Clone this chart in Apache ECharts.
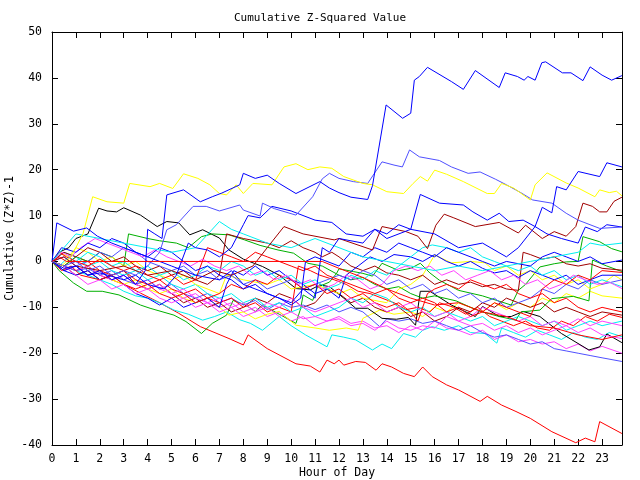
<!DOCTYPE html>
<html><head><meta charset="utf-8">
<script src="https://cdn.jsdelivr.net/npm/echarts@6/dist/echarts.min.js"></script>
<style>html,body{margin:0;padding:0;background:#fff}#c{width:640px;height:480px}</style>
</head><body><div id="c"></div>
<script>
const titleText = "Cumulative Z-Squared Value";
const xName = "Hour of Day";
const yName = "Cumulative (Z*Z)-1";
const xMin = 0, xMax = 23.8333, yMin = -40, yMax = 50;

const blue1 = [[0,0],[0.5,-1.5],[1,-1],[1.5,-3],[2,-2],[2.5,-4],[3,-3],[3.5,-5],[3.9,-2],[4.0,7],[4.3,6],[4.6,5],[4.8,14.5],[5.5,15.6],[6.2,13],[6.7,14.1],[7.1,14.9],[7.85,16.7],[8.0,19.2],[8.5,18.1],[9,18.8],[9.5,17],[10.2,14.8],[11.2,17.4],[11.6,16],[12,15],[12.5,14],[13.2,13.5],[13.4,16.5],[13.97,34.1],[14.66,31.2],[15.0,32.3],[15.15,39.5],[15.36,40.3],[15.7,42.3],[16.7,39.2],[17.2,37.5],[17.7,41.6],[18.7,37.9],[18.95,41.1],[19.46,40.3],[19.74,39.5],[19.9,40.3],[20.2,39.5],[20.48,43.3],[20.64,43.5],[21.34,41.1],[21.7,41.1],[22.2,39.4],[22.5,42.4],[23.0,40.6],[23.4,39.5],[23.83,40.5]];
const blue2 = [[0,0],[0.2,8.4],[0.9,6.6],[1.45,7.3],[1.9,5.5],[2.5,4],[3,3],[4,1],[5,-1],[6,-3],[7,-4],[7.5,-2],[8,-5],[9,-7],[10,-9],[10.5,-6],[11,-8],[11.3,3],[11.6,2],[12,5],[13,4],[13.5,7],[14,5],[15,7],[16,6],[17,3],[18,4],[19,1],[19.5,3],[20.2,7.6],[20.5,11.8],[20.9,10.6],[21.1,16.3],[21.5,15.6],[22,19.6],[22.9,18.5],[23.2,21.5],[23.83,20.6]];
const blue3 = [[0,0],[0.5,-2],[1,-1],[1.5,-3],[2,-2.5],[3,-4],[3.5,-3],[4,-5],[4.7,-6],[5.2,-3],[5.7,4],[6,3],[6.5,2.5],[7,1],[7.5,3],[8,8],[8.2,10],[8.7,9.5],[9.2,12],[10,11],[11,9],[11.7,8.5],[12.3,6],[13,5.5],[13.5,7],[14,6],[14.5,8],[15,7],[15.4,14.6],[16.2,12.7],[17.2,12.3],[17.6,10.8],[18.2,9],[18.7,10.5],[19.1,8.7],[19.7,9],[20.2,7.6],[20.7,6],[21.3,5],[22,4],[22.3,7.5],[22.8,6.5],[23.2,8],[23.83,7.5]];
const blue4 = [[0,0],[0.4,3],[1,2],[1.5,4],[2,3],[2.5,5],[3,4],[3.5,2],[4,1],[4.5,3],[5,2],[5.5,0],[6,-2],[6.5,-1],[7,-3],[7.5,-4],[8,-6],[8.5,-5],[9,-7],[9.5,-8],[10,-9.5],[10.4,-8],[10.6,0],[11,1],[11.5,0],[12,-1],[12.5,2],[13,1],[13.5,3],[14,2],[14.5,4],[15,3],[15.5,2],[16,1],[16.5,3],[17,2],[18,0],[18.5,-1],[19,0],[20,-1],[20.5,1],[21,2],[21.5,1],[22,0],[22.5,1],[23,-0.5],[23.83,0.3]];
const blue5 = [[0,0],[0.5,-2],[1,-3],[1.5,-2],[2,-4],[2.5,-3],[3,-5],[3.5,-7],[4,-8],[4.5,-9.5],[5,-8],[5.5,-10],[6,-9],[6.5,-8],[7,-10],[7.3,-5],[7.6,-2],[8,-3],[8.5,-1],[9,-3],[9.5,-2],[10,-4],[10.5,-5],[11,-7],[11.5,-6],[12,-8],[12.3,-3],[12.8,-1],[13.3,1],[13.8,0],[14.3,1.5],[15,1],[15.5,0],[16,1.5],[16.5,0],[17,-1],[17.5,0],[18,-1.5],[18.5,-2.5],[19,-2],[19.5,-3.5],[20,-2],[20.5,-3],[21,-4],[21.5,-3],[22,-5],[22.5,-4],[23,-3],[23.83,-3]];
const black1 = [[0,0],[0.3,2],[0.7,3],[1,5],[1.5,6],[1.95,11.6],[2.3,11],[2.7,10.8],[3.0,11.7],[3.7,10.1],[4.4,7.6],[4.8,8.7],[5.3,8.4],[5.76,5.8],[6.3,6.9],[7.0,5.1],[7.4,2.5],[8,0.5],[8.8,-1.1],[9.5,-3],[10.2,-5.9],[10.8,-6.2],[11.2,-5.1],[11.6,-5.5],[12.2,-8],[12.7,-10.2],[13.2,-10.2],[13.8,-12.4],[14.4,-12.6],[14.9,-12.2],[15.2,-13.9],[15.4,-6.5],[15.8,-6.5],[16.7,-9.5],[17.7,-12],[18,-9.8],[18.7,-12],[19.2,-12],[19.7,-10.9],[20.4,-12],[21.3,-15.7],[22.45,-19.3],[22.9,-18.6],[23.2,-15.8],[23.83,-17.7]];
const yellow1 = [[0,0],[0.4,-1],[0.8,1],[1.3,6.1],[1.7,14.1],[2.3,13],[3.0,12.7],[3.25,17],[4.1,16.3],[4.5,17],[5.05,15.9],[5.5,19.1],[6.1,18.1],[6.6,16.7],[7.0,14.8],[7.3,14.5],[7.7,16.7],[8.0,14.8],[8.4,17],[9.2,16.7],[9.7,20.6],[10.2,21.3],[10.7,20],[11.2,20.6],[11.7,20.3],[12.2,18.5],[13,17],[13.4,16.7],[14.0,15.2],[14.7,14.8],[15.1,17],[15.4,18.5],[15.7,17.5],[16,19.9],[16.5,19],[17.2,17.4],[18.2,14.8],[18.5,14.8],[18.8,17],[19.3,16],[20,13.4],[20.2,16.7],[20.7,19.3],[21.5,17.1],[22,16],[22.7,14.1],[22.9,15.6],[23.3,15],[23.6,15.3],[23.83,14.3]];
const yellow2 = [[0,0],[0.5,-2],[1,-1],[1.5,-3],[2,-2],[2.5,-4],[3,-5],[3.5,-4],[4,-6],[4.5,-7],[5,-6],[5.5,-8],[6,-9],[6.5,-8],[7,-10],[7.4,-11.7],[8,-11],[8.5,-12.5],[9,-11.5],[9.5,-10.9],[10.2,-13.9],[11,-14.5],[11.6,-15],[12.3,-14.5],[12.8,-15],[13,-12.4],[13.7,-10.6],[14.3,-11.5],[15,-11],[15.5,-12],[16,-10],[16.5,-11],[17,-9],[17.5,-10],[18,-11],[18.5,-9],[19,-10.5],[19.5,-9],[20,-10],[20.5,-8],[21,-9],[21.5,-7],[22,-8],[22.5,-6.5],[23,-7.5],[23.83,-8]];
const yellow3 = [[0,0],[0.3,2],[0.7,1],[1,3],[1.5,2],[2,0],[2.5,1],[3,-1],[3.5,0],[4,-2],[5,-4],[5.5,-3],[6,-5],[7,-7],[7.3,-3],[8,-4],[9,-5],[9.5,-4],[10,-6],[11,-5],[12,-7],[12.5,-6],[13,-8],[14,-9],[14.5,-6],[15,-5],[15.5,-3],[16,1.4],[16.7,-0.3],[17.5,0],[18.1,-0.3],[18.5,-2],[19,-1],[19.5,-3],[20,-2],[20.5,-4],[21,-3],[21.5,-5],[22,-4],[22.5,-6],[23,-5],[23.5,-3],[23.83,-4]];
const red1 = [[0,0],[0.5,-1],[1,-2],[1.5,-1],[2,-3],[3,-5],[3.7,-6.9],[4.5,-9],[5.3,-11.3],[6.2,-14.2],[7.4,-16.8],[8,-18.2],[8.2,-16],[9,-19],[10.2,-22.3],[10.8,-22.8],[11.2,-24.1],[11.5,-21.5],[11.8,-22.3],[12,-21.5],[12.2,-22.6],[12.7,-21.8],[13.1,-22],[13.55,-23.7],[13.8,-22.3],[14.2,-23],[14.7,-24.4],[15.15,-25.1],[15.5,-23],[15.9,-25.1],[16.5,-26.9],[17.0,-28],[17.9,-30.5],[18.2,-29.4],[18.8,-31.3],[19.4,-32.7],[20,-34.2],[20.9,-37.1],[21.9,-39.5],[22.3,-38.5],[22.7,-39.3],[22.9,-34.9],[23.83,-37.5]];
const red2 = [[0,0],[0.3,1],[0.6,0],[11.3,0],[12,-1.5],[13,-3.5],[14,-6],[15,-8],[16,-9.5],[17,-9],[18,-11],[19,-12],[20,-14],[21,-14.5],[22,-16],[23,-17],[23.83,-16]];
const red3 = [[0,0],[0.3,2],[0.6,1],[1,0],[1.5,-1],[2,0.5],[2.5,-1],[3,-2],[3.5,-1],[4,-3],[4.5,-4],[5,-3],[5.5,-5],[6,-4],[6.5,3],[7,2],[7.5,1],[8,0],[8.5,2],[9,1],[9.5,0],[10,-1],[10.5,-2],[11,-1],[11.5,-3],[12,-4],[12.5,-5],[13,-6],[13.5,-7],[14,-6],[14.5,-8],[15,-9],[15.5,-8],[16,-9],[16.5,-11],[17,-10],[17.5,-12],[18,-11],[18.5,-9],[19,-10],[19.5,-11],[20,-12],[20.5,-6],[21,-4],[21.5,-5],[22,-3],[22.5,-4],[23,-2],[23.83,-2.4]];
const red4 = [[0,0],[0.5,-1],[1,1],[1.5,0],[2,-2],[2.5,-3],[3,-2],[3.5,-4],[4,-5],[4.5,-4],[5,-6],[5.5,-7],[6,-6],[6.5,-8],[7,-9],[7.5,-8],[8,-10],[8.5,-9],[9,-11],[9.5,-10],[10,-11],[10.3,-1],[10.8,-2],[11.2,-3],[11.8,-4],[12.3,-5],[12.8,-6.5],[13.3,-7],[13.8,-8],[14.3,-9],[14.8,-10.5],[15.3,-10],[15.8,-11],[16.2,-9],[16.8,-10],[17.3,-11.5],[17.8,-10],[18.3,-12],[18.8,-13],[19.3,-14],[19.8,-13],[20.3,-14.5],[20.8,-15],[21.3,-13],[21.8,-14],[22.3,-12],[22.8,-13],[23.3,-11.5],[23.83,-12.2]];
const red5 = [[0,0],[0.4,-2],[0.8,-1],[1.2,-3],[2,-4],[2.5,-3],[3,-5],[3.5,-6],[4,-5],[4.5,-7],[5,-8],[5.5,-7],[6,-9],[6.5,-8],[7,-7],[7.5,-5],[8,-6],[8.5,-4],[9,-5],[9.5,-3],[10,-4],[10.5,-6],[11,-5],[11.5,-7],[12,-6],[12.5,-8],[13,-7],[13.5,-9],[14,-10],[14.5,-9],[15,-11],[15.3,-13],[15.7,-7],[16,-6],[16.5,-5],[17,-6],[17.5,-4],[18,-5],[18.5,-6],[19,-5],[19.5,-7],[20,-8],[20.5,-7],[21,-9],[21.5,-8],[22,-10],[22.5,-11],[23,-10],[23.83,-11]];
const darkred1 = [[0,0],[0.5,1],[1,-1],[2,-2],[3,-1],[4,-3],[5,-2],[6,-4],[6.8,-2],[7.5,-3],[8.4,-1],[9,3],[9.7,7.6],[10.5,6],[11.8,4.7],[12,5],[13.4,2.5],[13.8,7.6],[14.8,6.5],[15.3,5.5],[15.7,2.8],[16.05,7.9],[16.4,10.3],[16.8,9.5],[17.7,7.6],[18.7,8.5],[19.5,6.2],[19.8,7.9],[20.5,5],[21,6.5],[21.5,5.5],[21.9,7.6],[22.2,12.7],[22.6,12],[22.9,10.8],[23.2,10.8],[23.5,13.1],[23.83,14]];
const darkred2 = [[0,0],[0.5,2],[1,1],[1.5,3],[2,2],[2.5,0],[3,1],[3.5,-1],[4,-2],[4.5,-1],[5,-3],[5.5,-2],[6,-4],[6.5,-5],[7,-3],[7.3,6],[8,5],[9,4],[9.5,3],[10,4.5],[10.5,3],[11,2],[11.3,1],[11.7,2],[12,1],[12.5,-1],[13,-2],[13.5,-1],[14,-2.5],[14.5,-3],[15,-4],[15.5,-3],[16,-5],[16.5,-4],[17,-5],[17.5,-4.5],[18,-5.5],[18.5,-5],[19,-6],[19.5,-6.3],[19.7,2],[20,1.5],[20.5,0.5],[21,1],[21.5,-0.5],[22,-1],[22.5,-0.5],[23,-1.5],[23.83,-1.9]];
const darkred3 = [[0,0],[0.5,-1],[1,-3],[1.5,-2],[2,-4],[2.5,-3],[3,-2],[3.5,-5],[4,-6],[4.5,-5],[5,-7],[5.5,-9],[6,-8],[6.5,-10],[7,-9],[7.5,-11],[8,-10],[8.5,-8],[9,-9],[9.5,-7],[10,-8],[10.5,-10],[11,-9],[11.5,-6],[12,-7],[12.5,-9],[13,-8],[13.5,-10],[14,-11],[14.5,-10],[15,-12],[15.5,-11],[16,-13],[16.5,-12],[17,-10],[17.5,-11],[18,-9],[18.5,-10],[19,-8],[19.5,-9],[20,-10],[20.5,-9],[21,-11],[21.5,-10],[22,-11],[22.5,-12],[23,-11],[23.83,-11.7]];
const green1 = [[0,0],[0.3,-2],[0.9,-4.7],[1.45,-6.5],[2.1,-6.5],[2.8,-7.3],[3.7,-9.5],[4.1,-10.2],[5.1,-11.7],[5.6,-13.1],[6.25,-15.7],[6.7,-13.5],[7.3,-11.7],[7.57,-8.5],[8.1,-9.5],[8.5,-10.9],[8.8,-9.5],[9.5,-11.5],[10.2,-13.5],[10.4,-10.2],[10.5,-7.3],[10.9,-8.5],[11.1,-5.6],[11.6,-4.5],[11.9,-2.6],[12,-1.6],[12.6,-2.2],[13,-2.6],[13.4,-3.2],[13.8,-0.4],[14.5,-2],[15,-1.5],[15.4,-0.4],[15.8,-2.5],[16.2,-4.1],[17,-6.3],[18,-7.5],[18.6,-8.5],[19.2,-9.5],[19.5,-6.3],[19.8,-5],[20.4,-1.2],[21,-0.5],[21.5,-0.1],[22,0],[22.2,5.4],[22.9,4.3],[23.4,2.8],[23.83,2.1]];
const green2 = [[0,0],[0.5,-1],[1,1],[1.5,0],[2,2],[2.5,1],[3,-1],[3.2,6],[4,5],[4.5,4.5],[5.2,4],[5.7,3],[6.25,5.4],[6.7,6],[7.4,5.8],[8.05,4.7],[8.7,3.5],[9.45,2.5],[10.1,1.8],[10.7,-0.4],[11.3,-1],[12,-3],[12.5,-4],[13,-3.5],[13.5,-5],[14,-6],[14.5,-5.5],[15,-7],[15.5,-8],[16,-7.5],[16.9,-8.6],[17.5,-10],[18,-11],[18.7,-12],[19.4,-12.8],[19.6,-11],[20.4,-10.6],[20.9,-8.1],[21.8,-7.6],[22.45,-8.6],[22.6,0.3],[23.2,-1],[23.83,-2.2]];
const cyan1 = [[0,0],[0.5,3],[1,6],[2,5],[3,4],[4,3],[5,2],[6,3],[7,8.7],[7.5,7],[8,6],[9,4],[10,3],[11,5],[12,3],[13,1],[14,0],[15,-1],[16,-2],[17,-1],[18,-2],[19,-1],[20,0],[21,1],[22,2],[22.5,4],[23,3.5],[23.83,4]];
const cyan2 = [[0,0],[0.5,-1],[1,-2],[1.5,-3],[2,-4],[2.5,-5],[3,-6.5],[3.5,-7.5],[4,-8],[4.5,-9],[5.1,-10.6],[5.7,-11.5],[6.3,-12.8],[6.8,-12],[7.3,-11],[7.85,-12.7],[8.3,-13.5],[8.8,-15],[9.5,-12],[10,-14],[10.6,-16],[11.5,-18.6],[11.7,-16],[12.2,-16.5],[12.7,-17.1],[13.4,-19.3],[13.8,-18],[14.2,-19],[14.7,-15.7],[15.2,-16.5],[15.5,-15],[15.9,-14.2],[16.4,-15],[17,-14],[17.5,-15.5],[18.1,-15.7],[18.6,-17.8],[18.8,-14.5],[19.3,-15.5],[19.8,-16.5],[20.3,-15],[20.8,-16],[21.3,-17],[21.8,-15.5],[22.3,-16.5],[22.8,-17],[23.3,-15.5],[23.83,-16.4]];
const cyan3 = [[0,0],[0.3,-1],[0.7,1],[1,0],[1.5,2],[2,1],[2.5,-1],[3,0],[3.5,-2],[4,-1],[4.5,-3],[5,-2],[5.5,-4],[6,-3],[6.5,-1],[7,-2],[7.5,0],[8,-1],[8.5,-3],[9,-2],[9.5,-4],[10,-3],[10.5,-5],[11,-4],[11.5,-6],[12,-5],[12.5,-3],[13,-4],[13.5,-2],[14,-3],[14.5,-1],[15,1],[15.5,3],[15.9,3.6],[16.5,3],[17,2],[17.5,3],[18,1],[18.5,0],[19,-1],[19.5,-2],[20,-1],[20.5,-3],[21,-2],[21.5,-4],[22,-3],[22.5,-5],[23,-4],[23.83,-5.5]];
const cyan4 = [[0,0],[0.5,2],[1,1],[1.5,-1],[2,0],[2.5,-2],[3,-3],[3.5,-2],[4,-4],[4.5,-3],[5,-5],[5.5,-6],[6,-5],[6.5,-7],[7,-8],[7.5,-7],[8,-9],[8.5,-8],[9,-10],[9.5,-9],[10,-11],[10.5,-10],[11,-12],[11.5,-11],[12,-10],[12.5,-8],[13,-9],[13.5,-7],[14,-8],[14.5,-10],[15,-11],[15.5,-10],[16,-12],[16.5,-11],[17,-12],[17.5,-13],[18,-12],[18.5,-14],[19,-13],[19.5,-12],[20,-13],[20.5,-14],[21,-13],[21.5,-15],[22,-14],[22.5,-13],[23,-14],[23.83,-13]];
const magenta1 = [[0,0],[0.5,-2],[1,-1],[1.5,-3],[2,-2],[2.5,-4],[3,-3],[3.5,-5],[4,-6],[4.5,-5],[5,-7],[5.5,-6],[6,-8],[6.5,-9],[7,-8],[7.5,-10],[8,-9],[8.5,-11],[9,-10],[9.5,-12],[10,-11],[10.5,-12.5],[11,-12],[11.5,-13],[12,-12.5],[12.5,-14],[13,-13.5],[13.5,-15],[14,-13],[14.5,-14.5],[15,-15],[15.5,-14],[16,-14.5],[16.5,-12],[17,-13],[17.5,-14],[18,-13.5],[18.5,-15],[19,-14],[19.5,-15.5],[20,-14.5],[20.5,-16],[21,-15],[21.5,-14],[22,-15.5],[22.5,-14.5],[23,-16],[23.83,-16.8]];
const magenta2 = [[0,0],[0.5,-1],[1,-2],[1.5,-1],[2,-3],[2.5,-4],[3,-3],[3.5,-5],[4,-4],[4.5,-6],[5,-7],[5.5,-8],[6,-7],[6.5,-9],[7,-10],[7.5,-9],[8,-11],[8.5,-10],[9,-12],[9.5,-11],[10,-13],[10.5,-12],[11,-14],[11.5,-13],[12,-12],[12.5,-13.5],[13,-13],[13.5,-14.5],[14,-14],[14.5,-15.5],[15,-14],[15.5,-15],[16,-13],[16.5,-14.5],[17,-15],[17.5,-16],[18,-15],[18.5,-17],[19,-16],[19.5,-17.5],[20,-17],[20.5,-18],[21,-17.5],[21.5,-19],[22,-18],[22.5,-19.5],[23,-18.5],[23.83,-20]];
const magenta3 = [[0,0],[0.4,2],[0.8,1],[1.2,3],[1.8,5],[2.3,4],[2.8,3],[3.3,2],[3.8,1],[4.3,2.5],[4.8,1],[5.3,0],[5.8,-1],[6.3,0.5],[6.8,-1],[7.3,-2],[7.8,-1],[8.3,-3],[8.8,-2],[9.3,-4],[9.8,-3],[10.3,-5],[10.8,-4],[11.3,-6],[11.8,-5],[12.3,-3],[12.8,-4],[13.3,-6],[13.8,-5],[14.3,-2],[14.8,-1],[15.3,-2],[15.8,-1],[16.3,-3],[16.8,-2],[17.3,-4],[17.8,-3],[18.3,-2],[18.8,-4],[19.3,-3],[19.8,-5],[20.3,-4],[20.8,-6],[21.3,-5],[21.8,-3],[22.3,-4],[22.8,-5],[23.3,-4.5],[23.83,-5.9]];
const magenta4 = [[0,0],[0.5,-1],[1,-3],[1.5,-5],[2,-4],[2.5,-6],[3,-5],[3.5,-7],[4,-6],[4.5,-8],[5,-9],[5.5,-8],[6,-10],[6.5,-9],[7,-11],[7.5,-10],[8,-12],[8.5,-11],[9,-9],[9.5,-10],[10,-8],[10.5,-10],[11,-11],[11.5,-10],[12,-9],[12.5,-8],[13,-10],[13.5,-9],[14,-11],[14.5,-10],[15,-9],[15.5,-11],[16,-12],[16.5,-11],[17,-13],[17.5,-12],[18,-10],[18.5,-11],[19,-12],[19.5,-13],[20,-12],[20.5,-14],[21,-13],[21.5,-14],[22,-12.5],[22.5,-14],[23,-13],[23.83,-14]];
const slate1 = [[0,0],[0.5,-1],[1,0],[1.5,-2],[2,-1],[2.5,-3],[3,-2],[3.5,-3],[4,-1],[4.5,2],[4.8,6.9],[5.2,8],[5.9,12],[6.45,12],[7,11],[7.85,12.3],[8,11.2],[8.7,9.9],[8.8,12.7],[9.3,11.5],[10.2,10.1],[10.9,14.1],[11.3,18],[11.6,19.2],[12.0,18.1],[12.6,17.4],[13.2,17],[13.8,21.7],[14.3,21],[14.65,20.6],[14.95,24.3],[15.36,22.8],[16.2,22],[16.7,20.6],[17.4,19.2],[17.9,19.5],[18.55,17.9],[19.0,16.7],[19.6,15],[20.1,13.4],[20.9,12.7],[21.5,10.5],[22.0,9],[22.9,7.2],[23.83,7.5]];
const slate2 = [[0,0],[0.5,-1],[1,-2],[1.5,-1.5],[2,-3],[2.5,-2],[3,-4],[3.5,-5],[4,-4],[4.5,-6],[5,-5],[5.5,-7],[6,-8],[6.5,-7],[7,-9],[7.5,-8],[8,-9.5],[8.5,-8.5],[9,-10.5],[9.5,-9],[10,-10],[10.5,-9.5],[11,-10.5],[11.5,-9.5],[12,-11],[12.5,-10],[13,-11],[13.7,-14.2],[14,-12.5],[14.5,-13],[15,-12.5],[15.5,-13.5],[16,-13],[16.5,-14],[17,-15],[17.5,-14],[18,-15.5],[18.5,-16.5],[19,-16],[19.5,-17],[20,-18],[20.5,-17.5],[21,-19],[21.5,-19.5],[22,-20],[22.5,-20.5],[23,-21],[23.83,-21.8]];
const slate3 = [[0,0],[0.5,1],[1,-1],[1.5,0],[2,2],[2.5,1],[3,3],[3.5,2],[4,0],[4.5,-1],[5,-2],[5.5,-1],[6,-3],[6.5,-2],[7,-4],[7.5,-3],[8,-5],[8.5,-4],[9,-6],[9.5,-5],[10,-4],[10.5,-6],[11,-5],[11.5,-4],[12,-3],[12.5,-4],[13,-2],[13.5,-3],[14,-5],[14.5,-4],[15,-6],[15.5,-5],[16,-7],[16.5,-6],[17,-8],[17.5,-7],[18,-9],[18.5,-8],[19,-10],[19.5,-9],[20,-8],[20.5,-6],[21,-7],[21.5,-5],[22,-6],[22.5,-4],[23,-5],[23.83,-4]];

const RED='#ff0000', GREEN='#00b000', BLUE='#0000ff', MAG='#ff40ff', CYAN='#00f0f0', DRED='#a00000', YEL='#ffff00', BLK='#000000', SLATE='#5050ff';
const lines = [
  [red1,RED],[green1,GREEN],[cyan2,CYAN],[magenta2,MAG],[yellow2,YEL],[darkred3,DRED],[slate2,SLATE],[black1,BLK],
  [red4,RED],[green2,GREEN],[cyan4,CYAN],[magenta1,MAG],[yellow3,YEL],[darkred2,DRED],[slate3,SLATE],[blue5,BLUE],
  [red5,RED],[cyan3,CYAN],[magenta4,MAG],[red3,RED],[magenta3,MAG],[blue4,BLUE],[cyan1,CYAN],
  [darkred1,DRED],[blue3,BLUE],[slate1,SLATE],[yellow1,YEL],[blue2,BLUE],[blue1,BLUE],[red2,RED]
];

const font = 'DejaVu Sans Mono';
const chart = echarts.init(document.getElementById('c'), null, {renderer:'canvas'});
const axisCommon = {
  axisLine:{show:true,onZero:false,lineStyle:{color:'#000',width:1}},
  axisTick:{show:true,inside:true,length:6,lineStyle:{color:'#000'}},
  splitLine:{show:false}
};
chart.setOption({
  animation:false,
  backgroundColor:'#fff',
  title:{text:titleText,left:'center',top:8,textStyle:{fontFamily:font,fontSize:11,fontWeight:'normal',color:'#000'}},
  grid:{left:52,right:18,top:32,bottom:35,containLabel:false,outerBoundsMode:'none'},
  xAxis:[
    Object.assign({type:'value',min:xMin,max:xMax,interval:1,position:'bottom',
      name:xName,nameLocation:'middle',nameGap:22,nameMoveOverlap:false,
      nameTextStyle:{fontFamily:font,fontSize:11.5,color:'#000'},
      axisLabel:{fontFamily:font,fontSize:11.5,color:'#000',margin:8,
        formatter:v=>Number.isInteger(v)?String(v):''}},axisCommon),
    Object.assign({type:'value',min:xMin,max:xMax,interval:1,position:'top',axisLabel:{show:false}},axisCommon)
  ],
  yAxis:[
    Object.assign({type:'value',min:yMin,max:yMax,interval:10,position:'left',
      name:yName,nameLocation:'middle',nameGap:36,nameRotate:90,nameMoveOverlap:false,
      nameTextStyle:{fontFamily:font,fontSize:11.5,color:'#000'},
      axisLabel:{fontFamily:font,fontSize:11.5,color:'#000',margin:10}},axisCommon),
    Object.assign({type:'value',min:yMin,max:yMax,interval:10,position:'right',axisLabel:{show:false}},axisCommon)
  ],
  series: lines.map(([d,c],i)=>({type:'line',xAxisIndex:0,yAxisIndex:0,data:d,showSymbol:false,symbol:'none',
    silent:true,lineStyle:{color:c,width:1,opacity:1},z:(d===red2?5:2),zlevel:(d===red2?1:0)}))
});
</script></body></html>
